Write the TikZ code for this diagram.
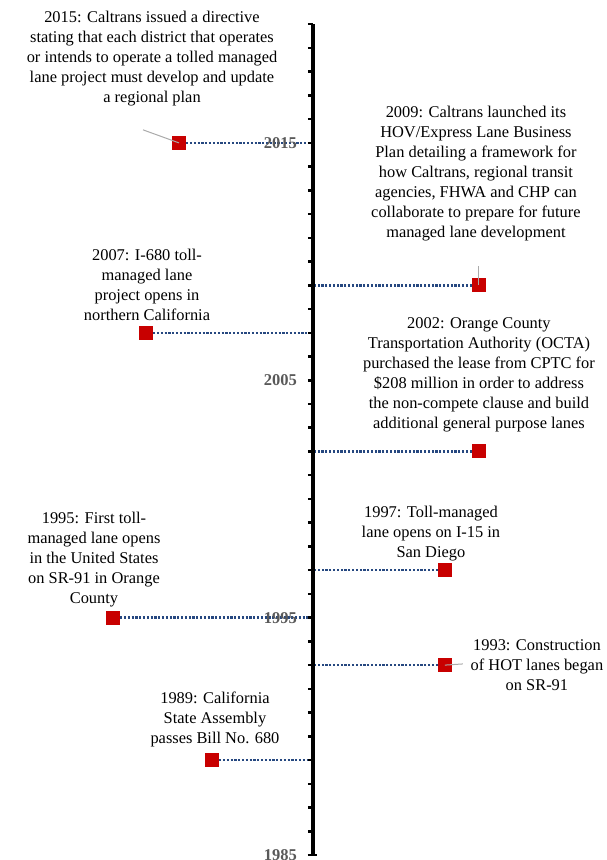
\documentclass[tikz,border=0pt]{standalone}
\usepackage{fontspec}
\setmainfont{Liberation Serif}
\definecolor{leaderblue}{RGB}{38,72,128}
\definecolor{markred}{RGB}{200,0,0}
\definecolor{yeargray}{RGB}{89,89,89}
\definecolor{stubgray}{RGB}{170,170,170}

\begin{document}
\begin{tikzpicture}[
    x=1pt, y=23.74pt,
    marker/.style={rectangle, fill=markred, minimum size=14pt, inner sep=0pt},
    event/.style={align=center, font=\fontsize{16.4}{20}\selectfont, inner sep=0pt},
    yearlabel/.style={anchor=east, font=\fontsize{16.5}{19}\selectfont\bfseries, text=yeargray, inner sep=0pt},
    leader/.style={draw=leaderblue, line width=2.4pt, dash pattern=on 2.2pt off 1.6pt},
    stub/.style={draw=stubgray, line width=1pt},
]
\useasboundingbox (0,-0.21) rectangle (607,36.02);

% Leaders from each marker to the axis
\foreach \yr/\x in {2015/179, 2009/479, 2007/146, 2002/479, 1997/445, 1995/113, 1993/445, 1989/212} {
    \pgfmathtruncatemacro{\y}{\yr-1985}
    \coordinate (a\yr) at (313,\y);
    \node[marker] (m\yr) at (\x,\y) {};
    \draw[leader] (m\yr) -- (a\yr);
}

% Axis with yearly ticks
\draw[line width=3.5pt] (313,0) -- (313,35);
\foreach \y in {0,...,35} {
    \draw[line width=2.5pt] (308,\y) -- (313,\y);
}
\draw[line width=2.5pt] (308,0) -- (317,0);

% Decade labels
\foreach \yr in {1985,1995,2005,2015} {
    \pgfmathtruncatemacro{\y}{\yr-1985}
    \node[yearlabel] (y\yr) at (297,\y) {\yr};
}

% Event texts
\node[event] (t2015) at (152,33.57) {2015: Caltrans issued a directive\\stating that each district that operates\\or intends to operate a tolled managed\\lane project must develop and update\\a regional plan};
\node[event] (t2009) at (476,28.69) {2009: Caltrans launched its\\HOV/Express Lane Business\\Plan detailing a framework for\\how Caltrans, regional transit\\agencies, FHWA and CHP can\\collaborate to prepare for future\\managed lane development};
\node[event] (t2007) at (147,24.01) {2007: I-680 toll-\\managed lane\\project opens in\\northern California};
\node[event] (t2002) at (479,20.22) {2002: Orange County\\Transportation Authority (OCTA)\\purchased the lease from CPTC for\\\$208 million in order to address\\the non-compete clause and build\\additional general purpose lanes};
\node[event] (t1997) at (431,13.56) {1997: Toll-managed\\lane opens on I-15 in\\San Diego};
\node[event] (t1995) at (94,12.43) {1995: First toll-\\managed lane opens\\in the United States\\on SR-91 in Orange\\County};
\node[event] (t1993) at (537,8.00) {1993: Construction\\of HOT lanes began\\on SR-91};
\node[event] (t1989) at (215,5.69) {1989: California\\State Assembly\\passes Bill No. 680};

% Short grey callout stubs
\coordinate (s2015) at (143,30.55);
\draw[stub] (s2015) -- (m2015.center);
\coordinate (s2009) at (479,24.8);
\draw[stub] (s2009) -- (m2009.center);
\coordinate (s1993) at (463,8.05);
\draw[stub] (s1993) -- (m1993.center);

\end{tikzpicture}
\end{document}
